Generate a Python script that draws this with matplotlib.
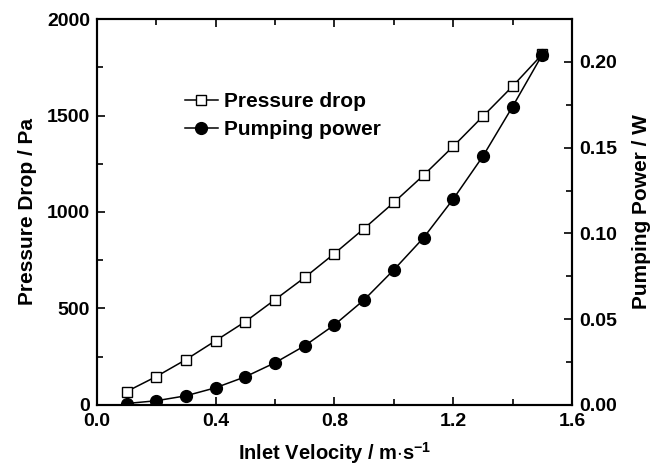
import matplotlib
matplotlib.use("Agg")
import matplotlib.pyplot as plt
from matplotlib.ticker import MultipleLocator

plt.rcParams['font.family'] = ['Liberation Sans', 'DejaVu Sans']
plt.rcParams['font.weight'] = 'bold'
plt.rcParams['mathtext.fontset'] = 'custom'
plt.rcParams['mathtext.rm'] = 'Liberation Sans:bold'

velocity = [0.1, 0.2, 0.3, 0.4, 0.5, 0.6, 0.7, 0.8, 0.9, 1.0, 1.1, 1.2, 1.3, 1.4, 1.5]
pressure_drop = [68, 146, 234, 332, 431, 545, 660, 784, 914, 1049, 1190, 1340, 1496, 1652, 1818]
pumping_power = [0.0007, 0.0023, 0.0052, 0.0099, 0.0163, 0.0245, 0.0344, 0.0466, 0.0612,
                 0.0787, 0.0974, 0.1200, 0.1450, 0.1740, 0.2043]

fig = plt.figure(figsize=(6.59, 4.67), dpi=100)
ax = fig.add_axes([0.147, 0.1334, 0.721, 0.8256])
ax2 = ax.twinx()

l1, = ax.plot(velocity, pressure_drop, '-', color='black', lw=1.1, marker='s', ms=7.5,
              mfc='white', mec='black', mew=1.0, label='Pressure drop')
l2, = ax2.plot(velocity, pumping_power, '-', color='black', lw=1.1, marker='o', ms=8.5,
               mfc='black', mec='black', label='Pumping power')

ax.set_xlim(0, 1.6)
ax.set_ylim(0, 2000)
ax2.set_ylim(0, 0.225)

ax.xaxis.set_major_locator(MultipleLocator(0.4))
ax.xaxis.set_minor_locator(MultipleLocator(0.2))
ax.yaxis.set_major_locator(MultipleLocator(500))
ax.yaxis.set_minor_locator(MultipleLocator(250))
ax2.yaxis.set_major_locator(MultipleLocator(0.05))
ax2.yaxis.set_minor_locator(MultipleLocator(0.025))

ax.xaxis.set_major_formatter(matplotlib.ticker.FormatStrFormatter('%.1f'))
ax2.yaxis.set_major_formatter(matplotlib.ticker.FormatStrFormatter('%.2f'))

ax.tick_params(axis='x', which='both', direction='in', top=True, bottom=True, labelsize=14, pad=6)
ax.tick_params(axis='y', which='both', direction='in', left=True, right=False, labelsize=14, pad=5)
ax2.tick_params(axis='y', which='both', direction='in', right=True, labelsize=14, pad=5)
for a in (ax, ax2):
    a.tick_params(which='major', length=6, width=1.2)
    a.tick_params(which='minor', length=4, width=1.2)
    for s in a.spines.values():
        s.set_linewidth(1.5)

ax.set_xlabel(r'Inlet Velocity / m$\cdot$s$^{-1}$', fontsize=14.5, fontweight='bold', labelpad=7)
ax.set_ylabel('Pressure Drop / Pa', fontsize=15, fontweight='bold', labelpad=7)
ax2.set_ylabel('Pumping Power / W', fontsize=15, fontweight='bold', labelpad=11)

ax.legend([l1, l2], ['Pressure drop', 'Pumping power'], loc='center left',
          bbox_to_anchor=(0.167, 0.75), frameon=False, fontsize=15,
          handlelength=1.6, handletextpad=0.3, labelspacing=0.45, borderaxespad=0)

fig.savefig('out.png', dpi=100)
